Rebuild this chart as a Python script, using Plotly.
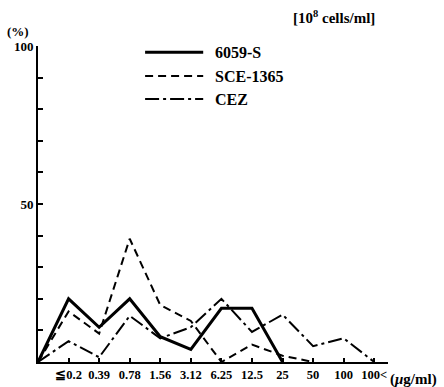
import plotly.graph_objects as go

# MIC categories (µg/ml)
categories = ["≦0.2", "0.39", "0.78", "1.56", "3.12", "6.25", "12.5", "25", "50", "100", "100<"]

# Percentage of strains at each MIC (leading 0 is the origin point)
s6059 = [0, 20, 11, 20, 8, 4, 17, 17, 0]
sce1365 = [0, 16, 9, 39, 18, 13, 0, 5.5, 2, 0]
cez = [0, 6.6, 1.5, 14.6, 7.5, 11, 20, 9.5, 15, 5, 7.5, 0]

series_names = ["6059-S", "SCE-1365", "CEZ"]
y_major = [50, 100]

FONT = "Liberation Serif, DejaVu Serif, serif"

def xs(values):
    # origin sits one slot before the first category
    return list(range(-1, len(values) - 1))

fig = go.Figure()
styles = [
    dict(width=3, dash="solid"),
    dict(width=2, dash="8px,5px"),
    dict(width=2, dash="14px,4px,3px,4px"),
]
for name, vals, st in zip(series_names, [s6059, sce1365, cez], styles):
    fig.add_trace(go.Scatter(
        x=xs(vals), y=vals, mode="lines", name=name,
        line=dict(color="black", width=st["width"], dash=st["dash"]),
        showlegend=False,
    ))

# legend drawn as sample strokes + labels
leg_y = [0.98, 0.905, 0.832]
for name, st, ly in zip(series_names, styles, leg_y):
    fig.add_shape(type="line", xref="paper", yref="paper",
                  x0=0.306, x1=0.472, y0=ly, y1=ly,
                  line=dict(color="black", width=st["width"], dash=st["dash"]))
    fig.add_annotation(xref="paper", yref="paper", x=0.5, y=ly, text="<b>%s</b>" % name,
                       showarrow=False, xanchor="left", yanchor="middle",
                       font=dict(family=FONT, size=16, color="black"))

fig.add_annotation(xref="paper", yref="paper", x=0.846, y=1.092,
                   text="<b>[10<sup>8</sup> cells/ml]</b>", showarrow=False,
                   xanchor="center", yanchor="middle",
                   font=dict(family=FONT, size=15, color="black"))
fig.add_annotation(xref="paper", yref="paper", x=-0.057, y=1.045,
                   text="<b>(%)</b>", showarrow=False, xanchor="center", yanchor="middle",
                   font=dict(family=FONT, size=13, color="black"))
fig.add_annotation(xref="paper", yref="paper", x=1.0, y=-0.055,
                   text="<b>(<i>μ</i>g/ml)</b>", showarrow=False, xanchor="left", yanchor="middle",
                   font=dict(family=FONT, size=15, color="black"))

fig.update_layout(
    width=444, height=387,
    margin=dict(l=38, r=56, t=46, b=25, autoexpand=False),
    paper_bgcolor="white", plot_bgcolor="white",
    font=dict(family=FONT, color="black"),
    xaxis=dict(
        range=[-1, 10.45], showgrid=False, zeroline=False, automargin=False,
        tickvals=list(range(len(categories))), ticktext=["<b>%s</b>" % c for c in categories],
        tickangle=0, ticks="inside", ticklen=4, tickwidth=1.5, tickcolor="black",
        showline=True, linecolor="black", linewidth=2,
        tickfont=dict(family=FONT, size=12.5, color="black"),
    ),
    yaxis=dict(
        range=[0, 100], showgrid=False, zeroline=False, automargin=False,
        tickvals=y_major, ticktext=["<b>%d</b>" % t for t in y_major],
        ticks="inside", ticklen=5, tickwidth=1.5, tickcolor="black",
        minor=dict(ticks="inside", dtick=10, tick0=0, ticklen=5, tickwidth=1.5,
                   tickcolor="black", showgrid=False),
        showline=True, linecolor="black", linewidth=2,
        tickfont=dict(family=FONT, size=13, color="black"),
    ),
)

fig.write_html("out.html")
